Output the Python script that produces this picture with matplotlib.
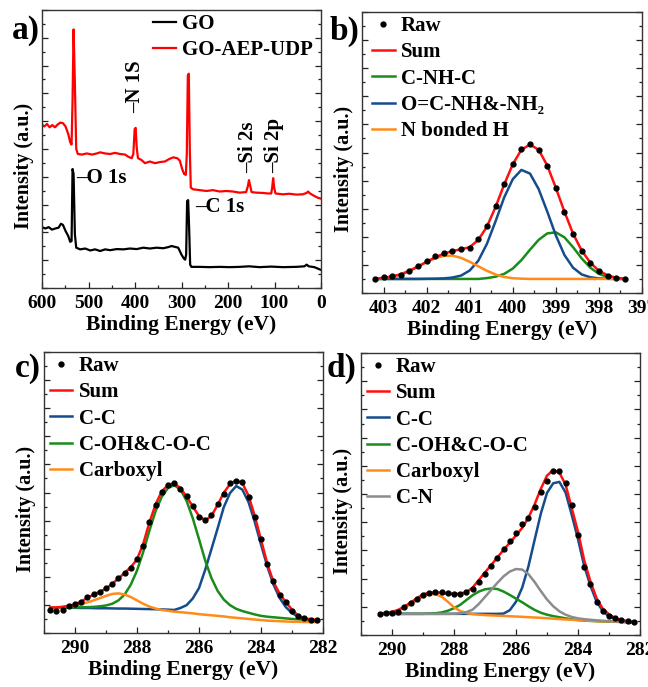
import matplotlib
matplotlib.use("Agg")
import matplotlib.pyplot as plt
from matplotlib.ticker import MultipleLocator

# ---- a) survey spectra ----
go_udp_E = [600, 595, 589.3, 583.6, 577.9, 572.1, 566.4, 560.7, 555.0, 549.3, 543.6, 539.3, 536.4,
            534.3, 532.1, 529.3, 526.4, 522.9, 514.3, 503.6, 492.9, 482.1, 475.0, 464.3, 453.6, 442.9,
            432.1, 421.4, 414.3, 407.1, 403.6, 400.7, 398.6, 396.4, 393.6, 385.7, 378.6, 367.9, 357.1,
            346.4, 335.7, 326.4, 317.9, 309.3, 303.6, 298.6, 294.3, 290.7, 288.6, 286.4, 284.3, 282.1,
            280.0, 275.0, 260.7, 246.4, 232.1, 217.9, 203.6, 189.3, 175.0, 161.1, 157.1, 155.0, 152.1,
            149.3, 139.3, 125.0, 114.3, 107.1, 105.0, 102.9, 100.7, 97.9, 82.1, 67.9, 53.6, 39.3, 30.7,
            27.9, 23.6, 14.3, 7.1, 1.4]
go_udp_I = [58.8, 58.1, 59.0, 57.8, 58.6, 57.8, 58.8, 59.5, 59.3, 58.1, 55.4, 52.4, 51.6,
            67.5, 93.0, 73.5, 50.0, 48.2, 48.0, 48.4, 48.0, 48.4, 48.8, 48.4, 48.2, 48.6,
            48.2, 48.0, 47.2, 46.7, 48.2, 57.2, 57.6, 50.6, 46.7, 46.0, 44.9, 45.5, 44.9,
            45.3, 45.5, 46.4, 47.0, 46.7, 45.8, 42.8, 41.0, 40.7, 48.2, 76.5, 77.1, 49.4,
            36.1, 35.5, 35.2, 34.9, 35.2, 34.7, 34.9, 34.7, 34.3, 34.5, 36.7, 38.8, 36.7,
            34.5, 34.3, 34.2, 34.0, 34.0, 36.1, 39.5, 36.1, 34.0, 33.7, 33.9, 33.6, 33.7, 34.2,
            34.7, 34.0, 33.1, 32.5, 32.2]
go_E = [600, 592.9, 585.7, 578.6, 571.4, 564.3, 559.3, 555.0, 549.3, 543.6, 539.3, 536.4, 534.3,
        532.1, 529.3, 526.4, 517.9, 507.1, 496.4, 485.7, 475.0, 464.3, 453.6, 439.3, 425.0, 410.7,
        396.4, 382.1, 367.9, 353.6, 339.3, 328.6, 321.4, 314.3, 307.1, 300.0, 295.0, 292.1, 290.0,
        287.9, 285.7, 283.6, 281.4, 278.6, 260.7, 239.3, 217.9, 196.4, 175.0, 155.0, 132.1, 107.1,
        82.1, 53.6, 35.7, 30.7, 26.4, 14.3, 1.4]
go_I = [21.9, 21.4, 21.9, 21.0, 21.4, 21.7, 23.1, 22.7, 20.5, 18.7, 16.6, 16.9, 42.8,
        41.0, 19.3, 14.5, 13.9, 14.2, 13.5, 13.9, 13.3, 13.9, 13.6, 14.0, 13.9, 14.2,
        14.0, 14.5, 14.2, 14.5, 14.3, 14.7, 15.1, 14.8, 14.5, 12.0, 10.6, 10.2, 12.0,
        31.3, 31.6, 21.7, 8.4, 7.6, 7.6, 7.5, 7.6, 7.5, 7.6, 7.8, 7.5, 7.7,
        7.5, 7.6, 7.8, 8.4, 7.8, 7.5, 6.6]

# ---- b) N 1s ----
b_E = [403.2, 403.0, 402.8, 402.6, 402.4, 402.2, 402.0, 401.8, 401.6, 401.4, 401.2, 401.0, 400.8,
       400.6, 400.4, 400.2, 400.0, 399.8, 399.6, 399.4, 399.2, 399.0, 398.8, 398.6, 398.4, 398.2,
       398.0, 397.8, 397.6, 397.4]
b_raw = [5.0, 5.6, 6.2, 6.5, 7.7, 9.5, 11.3, 13.0, 14.2, 14.8, 15.6, 16.0, 19.2, 23.7, 30.8, 38.7,
         46.0, 51.3, 53.1, 50.9, 45.3, 37.3, 28.8, 21.0, 15.0, 10.7, 7.7, 6.2, 5.3, 5.0]
b_sum = [5.1, 5.4, 5.9, 6.6, 7.8, 9.4, 11.1, 12.7, 14.0, 14.9, 15.6, 16.3, 18.9, 23.6, 30.6, 38.6,
         45.8, 51.0, 52.8, 51.0, 45.4, 37.4, 28.9, 21.1, 15.1, 10.8, 7.9, 6.3, 5.4, 5.1]
b_cnhc = [5.0, 5.0, 5.0, 5.0, 5.0, 5.0, 5.0, 5.0, 5.0, 5.0, 5.0, 5.0, 5.0, 5.3, 5.8, 6.8,
          8.7, 11.7, 15.4, 18.9, 21.2, 21.6, 19.8, 16.3, 12.3, 9.0, 6.8, 5.7, 5.2, 5.0]
b_ocnh = [5.0, 5.0, 5.0, 5.0, 5.0, 5.0, 5.05, 5.1, 5.2, 5.5, 6.2, 8.0, 11.5, 17.5, 25.5, 34.0,
          40.5, 43.8, 42.5, 37.0, 29.0, 20.5, 13.5, 9.0, 6.6, 5.6, 5.2, 5.05, 5.0, 5.0]
b_nh = [5.0, 5.3, 5.9, 6.7, 8.0, 9.5, 11.0, 12.4, 13.2, 13.3, 12.5, 11.1, 9.5, 7.9, 6.6, 5.7,
        5.25, 5.1, 5.0, 5.0, 5.0, 5.0, 5.0, 5.0, 5.0, 5.0, 5.0, 5.0, 5.0, 5.0]

# ---- c) C 1s of GO ----
c_E = [290.8, 290.6, 290.4, 290.2, 290.0, 289.8, 289.6, 289.4, 289.2, 289.0, 288.8, 288.6, 288.4,
       288.2, 288.0, 287.8, 287.6, 287.4, 287.2, 287.0, 286.8, 286.6, 286.4, 286.2, 286.0, 285.8,
       285.6, 285.4, 285.2, 285.0, 284.8, 284.6, 284.4, 284.2, 284.0, 283.8, 283.6, 283.4, 283.2,
       283.0, 282.8, 282.6, 282.4, 282.2]
c_raw = [8.2, 7.9, 8.3, 9.5, 10.3, 11.0, 12.7, 13.8, 14.6, 15.9, 17.6, 19.6, 21.5, 23.0, 26.5, 31.0,
         39.6, 45.6, 50.2, 52.7, 53.4, 51.2, 48.9, 45.3, 41.3, 40.3, 42.0, 45.9, 49.5, 53.3, 54.0,
         53.6, 48.5, 41.3, 33.6, 24.4, 18.5, 13.7, 11.1, 8.0, 5.9, 5.2, 4.8, 4.6]
c_sum = [9.0, 9.1, 9.3, 9.7, 10.2, 11.2, 12.5, 13.7, 14.7, 15.8, 17.5, 19.4, 21.4, 23.4, 26.2, 31.7,
         39.3, 45.8, 50.4, 52.7, 53.2, 51.6, 48.5, 45.0, 41.6, 40.1, 41.6, 45.6, 49.9, 53.0, 54.3,
         53.3, 48.8, 41.6, 33.2, 24.8, 18.2, 14.0, 11.0, 8.3, 6.1, 5.2, 4.9, 4.6]
c_cc = [9.0, 9.0, 9.0, 9.0, 8.95, 8.9, 8.9, 8.85, 8.8, 8.8, 8.75, 8.7, 8.7, 8.65, 8.6, 8.55, 8.5,
        8.45, 8.4, 8.3, 8.2, 8.9, 9.9, 12.3, 16.0, 22.5, 29.8, 37.2, 44.8, 49.8, 52.3, 51.0, 46.5,
        39.5, 31.5, 23.8, 17.3, 12.5, 9.2, 7.1, 5.8, 5.1, 4.7, 4.5]
c_coh = [9.0, 9.0, 9.0, 9.05, 9.1, 9.15, 9.2, 9.3, 9.5, 9.8, 10.4, 11.6, 13.7, 17.2, 22.2, 28.8,
         36.4, 43.4, 48.5, 51.6, 52.6, 51.1, 47.0, 40.8, 33.4, 25.8, 19.6, 15.0, 11.9, 9.9, 8.6,
         7.8, 7.2, 6.6, 6.1, 5.8, 5.6, 5.4, 5.2, 5.0, 4.85, 4.7, 4.6, 4.5]
c_cooh = [9.0, 9.1, 9.3, 9.5, 9.8, 10.3, 10.9, 11.6, 12.4, 13.2, 13.9, 14.1, 13.7, 12.8, 11.6, 10.4,
          9.4, 8.7, 8.2, 7.9, 7.6, 7.4, 7.2, 7.0, 6.7, 6.5, 6.3, 6.1, 5.9, 5.6, 5.4, 5.2, 5.0, 4.8,
          4.6, 4.4, 4.3, 4.2, 4.1, 4.0, 4.0, 3.9, 3.9, 3.9]

# ---- d) C 1s of GO-AEP-UDP ----
d_E = [290.4, 290.2, 290.0, 289.8, 289.6, 289.4, 289.2, 289.0, 288.8, 288.6, 288.4, 288.2, 288.0,
       287.8, 287.6, 287.4, 287.2, 287.0, 286.8, 286.6, 286.4, 286.2, 286.0, 285.8, 285.6, 285.4,
       285.2, 285.0, 284.8, 284.6, 284.4, 284.2, 284.0, 283.8, 283.6, 283.4, 283.2, 283.0, 282.8,
       282.6, 282.4, 282.2]
d_raw = [7.5, 7.7, 7.9, 8.3, 9.8, 11.4, 12.8, 14.3, 15.0, 15.3, 15.1, 14.8, 14.6, 14.4, 15.1, 16.2,
         18.8, 21.5, 24.6, 27.4, 30.4, 33.4, 36.2, 39.2, 41.6, 45.3, 50.7, 54.7, 58.0, 58.2, 53.8,
         46.2, 35.4, 24.2, 18.2, 11.6, 8.6, 6.6, 6.1, 5.3, 4.9, 4.5]
d_sum = [7.6, 7.9, 8.2, 8.9, 10.1, 11.5, 13.0, 14.4, 15.0, 15.1, 15.0, 14.7, 14.6, 14.6, 15.2, 16.8,
         19.5, 22.2, 24.8, 27.5, 30.2, 32.7, 35.3, 38.0, 41.6, 46.3, 51.8, 56.5, 58.5, 57.6, 53.3,
         44.9, 36.6, 26.5, 19.0, 13.0, 9.3, 7.3, 6.0, 5.3, 4.9, 4.6]
d_cc = [7.5, 7.5, 7.5, 7.5, 7.5, 7.5, 7.5, 7.5, 7.5, 7.5, 7.5, 7.5, 7.5, 7.5, 7.5, 7.5, 7.5, 7.5,
        7.5, 7.5, 7.6, 8.8, 11.8, 16.8, 24.3, 33.7, 43.0, 50.4, 53.8, 54.3, 50.5, 42.5, 34.0, 24.5,
        17.5, 11.8, 8.5, 6.6, 5.7, 5.1, 4.7, 4.5]
d_coh = [7.5, 7.5, 7.5, 7.5, 7.5, 7.5, 7.5, 7.5, 7.6, 7.7, 8.0, 8.6, 9.5, 10.7, 12.4, 14.1, 15.4,
         16.2, 16.5, 16.3, 15.4, 14.2, 12.9, 11.6, 10.2, 8.9, 7.9, 7.2, 6.7, 6.3, 5.9, 5.6, 5.3,
         5.1, 5.0, 4.9, 4.8, 4.75, 4.7, 4.6, 4.55, 4.5]
d_cooh = [7.5, 7.7, 8.0, 8.6, 9.6, 10.9, 12.3, 13.7, 14.5, 14.5, 13.6, 11.8, 9.8, 8.5, 7.8, 7.4,
          7.2, 7.05, 6.95, 6.85, 6.75, 6.65, 6.55, 6.45, 6.3, 6.2, 6.1, 5.95, 5.8, 5.65, 5.5, 5.4,
          5.25, 5.15, 5.05, 4.95, 4.85, 4.8, 4.7, 4.65, 4.55, 4.5]
d_cn = [7.5, 7.5, 7.5, 7.5, 7.5, 7.5, 7.5, 7.5, 7.5, 7.5, 7.5, 7.5, 7.55, 7.7, 8.1, 9.0, 11.0,
        13.5, 16.0, 18.5, 20.8, 22.5, 23.4, 23.2, 21.6, 18.8, 15.6, 12.6, 10.2, 8.4, 7.2, 6.4, 5.9,
        5.6, 5.4, 5.2, 5.05, 4.9, 4.8, 4.7, 4.6, 4.5]

RED = '#ff1010'
GREEN = '#1a8c1a'
BLUE = '#154c8c'
ORANGE = '#ff8c1a'
GRAY = '#8c8c8c'

plt.rcParams['font.family'] = ['Liberation Serif', 'DejaVu Serif']
plt.rcParams['font.weight'] = 'bold'
plt.rcParams['axes.labelweight'] = 'bold'

fig = plt.figure(figsize=(6.48, 6.87), dpi=100)
W, H = 648.0, 687.0


def make_ax(x0, y0, x1, y1):
    return fig.add_axes([x0 / W, 1 - y1 / H, (x1 - x0) / W, (y1 - y0) / H])


def style(ax, xlim, major, minor):
    ax.set_xlim(*xlim)
    ax.set_ylim(0, 100)
    ax.xaxis.set_major_locator(MultipleLocator(major))
    ax.xaxis.set_minor_locator(MultipleLocator(minor))
    ax.yaxis.set_major_locator(MultipleLocator(10))
    ax.yaxis.set_minor_locator(MultipleLocator(5))
    ax.tick_params(which='both', direction='in', left=True, right=True, top=False,
                   labelleft=False, labelsize=14, width=0.9, pad=5, colors='#222222',
                   labelcolor='black')
    ax.tick_params(which='major', length=4)
    ax.tick_params(which='minor', length=2.5)
    for s in ax.spines.values():
        s.set_linewidth(1.0)
        s.set_color('#333333')
    ax.set_xlabel('Binding Energy (eV)', fontsize=15.5, labelpad=2)
    ax.set_ylabel('Intensity (a.u.)', fontsize=14.5)
    ax.yaxis.set_label_coords(-0.03, 0.44)


leg_kw = dict(fontsize=15, frameon=False, handlelength=1.1, handletextpad=0.3,
              labelspacing=0.3, borderaxespad=0, borderpad=0.2, numpoints=1)

# a)
ax = make_ax(42, 10, 321, 288)
ax.plot(go_E, go_I, color='black', lw=1.6, label='GO')
ax.plot(go_udp_E, go_udp_I, color='#ff0000', lw=1.6, label='GO-AEP-UDP')
style(ax, (600, 0), 100, 50)
ax.legend(loc='upper right', bbox_to_anchor=(0.985, 1.0), **leg_kw)
ax.text(527, 39.5, '–O 1s', fontsize=15, ha='left', va='center')
ax.text(270, 29, '–C 1s', fontsize=15, ha='left', va='center')
ax.text(399, 63, '–N 1S', fontsize=15, rotation=90, ha='center', va='bottom')
ax.text(156, 41.5, '–Si 2s', fontsize=15, rotation=90, ha='center', va='bottom')
ax.text(101, 41.5, '–Si 2p', fontsize=15, rotation=90, ha='center', va='bottom')

# b)
ax = make_ax(362, 12, 642, 293)
ax.plot(b_E, b_cnhc, color=GREEN, lw=1.8, label='C-NH-C')
ax.plot(b_E, b_ocnh, color=BLUE, lw=1.8, label='O=C-NH&-NH₂')
ax.plot(b_E, b_nh, color=ORANGE, lw=1.8, label='N bonded H')
ax.plot(b_E, b_sum, color=RED, lw=1.8, label='Sum')
ax.plot(b_E, b_raw, 'o', color='black', ms=3.5, label='Raw')
style(ax, (403.5, 397), 1, 0.5)
h, l = ax.get_legend_handles_labels()
order = [4, 3, 0, 1, 2]
ax.legend([h[i] for i in order], [l[i] for i in order], loc='upper left',
          bbox_to_anchor=(0.02, 1.0), **leg_kw)

# c)
ax = make_ax(44, 352, 323, 633)
ax.plot(c_E, c_cc, color=BLUE, lw=1.8, label='C-C')
ax.plot(c_E, c_coh, color=GREEN, lw=1.8, label='C-OH&C-O-C')
ax.plot(c_E, c_cooh, color=ORANGE, lw=1.8, label='Carboxyl')
ax.plot(c_E, c_sum, color=RED, lw=1.8, label='Sum')
ax.plot(c_E, c_raw, 'o', color='black', ms=3.5, label='Raw')
style(ax, (291, 282), 2, 1)
h, l = ax.get_legend_handles_labels()
order = [4, 3, 0, 1, 2]
ax.legend([h[i] for i in order], [l[i] for i in order], loc='upper left',
          bbox_to_anchor=(0.005, 1.0), **leg_kw)

# d)
ax = make_ax(361, 353, 640, 635)
ax.plot(d_E, d_cc, color=BLUE, lw=1.8, label='C-C')
ax.plot(d_E, d_coh, color=GREEN, lw=1.8, label='C-OH&C-O-C')
ax.plot(d_E, d_cooh, color=ORANGE, lw=1.8, label='Carboxyl')
ax.plot(d_E, d_cn, color=GRAY, lw=1.8, label='C-N')
ax.plot(d_E, d_sum, color=RED, lw=1.8, label='Sum')
ax.plot(d_E, d_raw, 'o', color='black', ms=3.5, label='Raw')
style(ax, (291, 282), 2, 1)
h, l = ax.get_legend_handles_labels()
order = [5, 4, 0, 1, 2, 3]
ax.legend([h[i] for i in order], [l[i] for i in order], loc='upper left',
          bbox_to_anchor=(0.005, 1.0), **leg_kw)

fig.text(12 / W, 1 - 31 / H, 'a)', fontsize=24, va='center', ha='left')
fig.text(330 / W, 1 - 31 / H, 'b)', fontsize=24, va='center', ha='left')
fig.text(15 / W, 1 - 368 / H, 'c)', fontsize=24, va='center', ha='left')
fig.text(327 / W, 1 - 368 / H, 'd)', fontsize=24, va='center', ha='left')

fig.savefig('out.png', dpi=100)
